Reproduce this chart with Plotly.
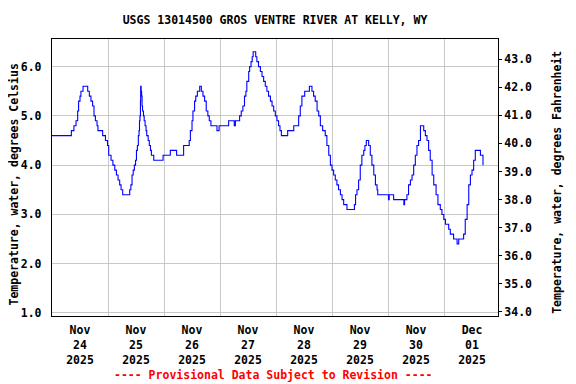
import pandas as pd
import plotly.graph_objects as go

# ---- data ----
start = "2025-11-24 00:00"
hours = [0, 8.3, 9.4, 10.3, 11.0, 11.4, 12.0, 12.4, 13.3, 15.3, 16.0, 16.7, 17.4, 18.0, 18.6, 19.3, 19.7,
         21.7, 22.9, 23.8, 24.3, 25.3, 26.1, 26.9, 27.6, 28.3, 29.0, 29.6, 30.3, 33.3, 33.8, 34.3, 34.8,
         35.3, 35.8, 36.2, 36.6, 37.0, 37.3, 37.5, 37.7, 37.9, 38.0, 38.2, 38.4, 38.6, 38.8, 39.2, 39.5,
         39.9, 40.3, 40.6, 41.2, 41.7, 42.2, 42.6, 43.6, 47.6, 50.7, 53.4, 56.4, 58.8, 59.3, 60.0, 60.4,
         61.1, 61.6, 62.3, 63.3, 64.0, 64.7, 65.4, 66.1, 66.8, 67.4, 68.1, 70.7, 71.6, 75.7, 78.1, 78.6,
         80.4, 81.1, 81.8, 82.5, 83.1, 83.5, 84.3, 84.7, 85.3, 85.8, 86.2, 87.3, 87.8, 88.5, 89.3, 90.0,
         90.7, 91.4, 92.1, 92.8, 93.6, 94.3, 95.0, 95.7, 96.4, 97.1, 97.7, 98.3, 101.0, 103.6, 105.7,
         106.4, 107.1, 108.3, 110.3, 111.4, 112.1, 112.8, 113.6, 114.3, 115.0, 116.0, 117.1, 117.8, 118.6,
         119.3, 120.0, 120.7, 121.4, 122.1, 122.8, 123.6, 124.3, 125.0, 126.4, 129.6, 130.1, 130.7, 131.4,
         132.1, 132.8, 133.6, 134.1, 134.7, 135.7, 136.4, 137.1, 137.9, 138.6, 139.3, 139.6, 144.2, 144.5,
         146.4, 150.8, 151.1, 151.4, 152.1, 152.8, 153.6, 154.3, 155.0, 155.7, 156.4, 157.1, 157.9, 159.3,
         160.0, 160.7, 161.4, 162.1, 162.9, 163.6, 164.6, 165.4, 166.4, 167.1, 167.9, 168.6, 170.0, 170.7,
         172.1, 173.6, 174.3, 176.4, 177.1, 177.9, 178.6, 179.3, 180.0, 180.7, 181.4, 181.8, 183.6, 183.9,
         184.7]
temp_c = [4.6, 4.7, 4.8, 4.9, 5.1, 5.3, 5.4, 5.5, 5.6, 5.5, 5.4, 5.3, 5.2, 5.0, 4.9, 4.8, 4.7,
          4.6, 4.5, 4.4, 4.2, 4.1, 4.0, 3.9, 3.8, 3.7, 3.6, 3.5, 3.4, 3.5, 3.6, 3.8, 3.9,
          4.0, 4.1, 4.3, 4.4, 4.6, 4.7, 4.9, 5.0, 5.3, 5.6, 5.5, 5.4, 5.2, 5.1, 5.0, 4.9,
          4.8, 4.7, 4.6, 4.5, 4.4, 4.3, 4.2, 4.1, 4.2, 4.3, 4.2, 4.4, 4.5, 4.7, 4.9, 5.1,
          5.3, 5.4, 5.5, 5.6, 5.5, 5.4, 5.3, 5.1, 5.0, 4.9, 4.8, 4.7, 4.8, 4.9, 4.8, 4.9,
          5.0, 5.1, 5.2, 5.4, 5.5, 5.7, 5.9, 6.0, 6.1, 6.2, 6.3, 6.2, 6.1, 6.0, 5.9, 5.8,
          5.7, 5.6, 5.5, 5.4, 5.3, 5.2, 5.1, 5.0, 4.9, 4.8, 4.7, 4.6, 4.7, 4.8, 5.0,
          5.2, 5.4, 5.5, 5.6, 5.5, 5.4, 5.3, 5.1, 5.0, 4.8, 4.7, 4.6, 4.4, 4.2,
          4.0, 3.9, 3.8, 3.7, 3.6, 3.5, 3.4, 3.3, 3.2, 3.1, 3.2, 3.4, 3.5, 3.7,
          4.0, 4.2, 4.3, 4.4, 4.5, 4.4, 4.2, 4.0, 3.8, 3.6, 3.5, 3.4, 3.3, 3.4,
          3.3, 3.2, 3.3, 3.3, 3.4, 3.6, 3.7, 3.8, 4.0, 4.2, 4.4, 4.5, 4.8, 4.7,
          4.6, 4.5, 4.3, 4.1, 3.8, 3.6, 3.4, 3.2, 3.1, 3.0, 2.9, 2.8, 2.7, 2.6,
          2.5, 2.4, 2.5, 2.6, 2.9, 3.2, 3.6, 3.8, 3.9, 4.1, 4.3, 4.3, 4.2, 4.2,
          4.0]

celsius_ticks = [1.0, 2.0, 3.0, 4.0, 5.0, 6.0]
fahrenheit_ticks = [34.0, 35.0, 36.0, 37.0, 38.0, 39.0, 40.0, 41.0, 42.0, 43.0]
first_day = "2025-11-24"
x_range = ["2025-11-24 00:00", "2025-12-01 23:08"]

title_text = "USGS 13014500 GROS VENTRE RIVER AT KELLY, WY"
left_title = "Temperature, water, degrees Celsius"
right_title = "Temperature, water, degrees Fahrenheit"
note_text = "---- Provisional Data Subject to Revision ----"

times = pd.Timestamp(start) + pd.to_timedelta(hours, unit="h")
temp_f = [c * 1.8 + 32 for c in temp_c]  # same readings in Fahrenheit (for the right axis)

FONT = "DejaVu Sans Mono"
FS = 11.5
font = dict(family=FONT, size=FS, color="black", weight="bold")

fig = go.Figure()
fig.add_trace(go.Scatter(x=times, y=temp_c, mode="lines", line_shape="hv",
                         line=dict(color="#0000ff", width=1.1), showlegend=False,
                         hoverinfo="skip"))
fig.add_trace(go.Scatter(x=times, y=temp_f, yaxis="y2", mode="lines",
                         line=dict(color="rgba(0,0,0,0)", width=0), showlegend=False,
                         hoverinfo="skip"))

grid = "#c8c8c8"
W, H = 568, 376  # page body adds an 8px offset; figure fills the rest of the 576x384 window
fig.update_layout(
    width=W, height=H,
    margin=dict(l=43.7, r=78.3, t=31, b=68, autoexpand=False),
    paper_bgcolor="white", plot_bgcolor="white",
    font=font,
    title=dict(text=title_text, x=267 / W, xanchor="center", y=1 - 12 / H,
               yanchor="middle", font=font),
    xaxis=dict(type="date", range=x_range, tick0=first_day, dtick=86400000,
               ticklabelmode="period", tickformat="%b<br>%d<br>%Y", ticks="",
               ticklabelstandoff=3,
               showgrid=True, gridcolor=grid, gridwidth=1, showline=True,
               linecolor="black", linewidth=1.3, mirror=True, tickfont=font,
               zeroline=False),
    yaxis=dict(range=[0.939, 6.56], tickvals=celsius_ticks, tickformat=".1f",
               ticks="", ticklabelstandoff=7, showgrid=True, gridcolor=grid, gridwidth=1,
               showline=True, linecolor="black", linewidth=1.3, mirror=True,
               tickfont=font, zeroline=False, automargin=False),
    yaxis2=dict(range=[33.85, 43.72], tickvals=fahrenheit_ticks, tickformat=".1f",
                overlaying="y", side="right", ticks="outside", ticklen=3,
                tickcolor="black", showgrid=False, showline=False, zeroline=False,
                tickfont=font, automargin=False),
    annotations=[
        dict(text=note_text, xref="paper", yref="paper", x=0.4965, y=-0.213,
             xanchor="center", yanchor="middle", showarrow=False,
             font=dict(family=FONT, size=FS, color="red", weight="bold")),
        dict(text=left_title, xref="paper", yref="paper", x=-0.0852, y=0.4747,
             xanchor="center", yanchor="middle", textangle=-90, showarrow=False,
             font=font),
        dict(text=right_title, xref="paper", yref="paper", x=1.1307, y=0.4819,
             xanchor="center", yanchor="middle", textangle=-90, showarrow=False,
             font=font),
    ],
)
fig.write_html("out.html")
